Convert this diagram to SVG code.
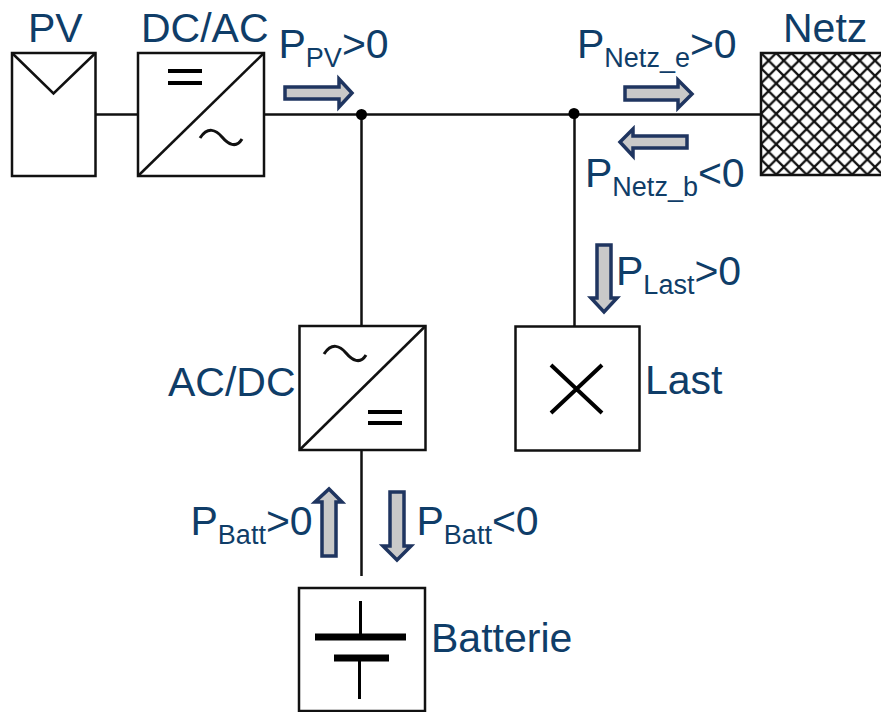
<svg xmlns="http://www.w3.org/2000/svg" width="881" height="712" viewBox="0 0 881 712">
<style>
text{font-family:"Liberation Sans",Arial,sans-serif;font-size:41px;fill:#0f3d68}
.s{font-size:27px}
.b{fill:#fff;stroke:#111;stroke-width:2.5}
.l{fill:none;stroke:#111;stroke-width:2.5}
.t{fill:none;stroke:#111;stroke-width:3}
.k{fill:none;stroke:#000;stroke-width:4}
.a{fill:#c9c9c9;stroke:#1f3560;stroke-width:3.500}
</style>
<defs>
<pattern id="h" width="15.200" height="15.200" patternUnits="userSpaceOnUse" patternTransform="translate(761 53)">
<path d="M-2 2L2 -2M-2 17.200L17.200 -2M13.200 17.200L17.200 13.200M-2 13.200L2 17.200M-2 -2L17.200 17.200M13.200 -2L17.200 2" stroke="#111" stroke-width="2.300" fill="none"/>
</pattern>
</defs>
<g id="connectors">
<path class="l" d="M96 114.500H138M264 114.500H761M361.500 114.500V326M574.500 114.500V326M361.500 450V576"/>
<circle cx="361.500" cy="114.500" r="5.500" fill="#000"/>
<circle cx="574" cy="113.500" r="5.500" fill="#000"/>
</g>
<g id="pv"><rect class="b" x="12" y="53" width="83.500" height="123"/><path class="l" d="M12 53L53.500 93.500L95.500 53"/><text x="28" y="42">PV</text></g>
<g id="dcac"><rect class="b" x="138" y="53" width="126" height="123"/><path class="l" d="M138 176L264 53"/><path d="M168 71H202M168 83H202" stroke="#000" stroke-width="4" fill="none"/><path class="t" d="M200 138C208 126 216 130 222 137C228 144 236 149 242 139"/><text x="141" y="42">DC/AC</text></g>
<g id="acdc"><rect class="b" x="299.500" y="326" width="126" height="124"/><path class="l" d="M299.500 450L425.500 326"/><path class="t" d="M324 354C332 342 340 346 346 353C352 360 360 365 366 355"/><path d="M368 412H402M368 423H402" stroke="#000" stroke-width="4" fill="none"/><text x="168" y="396">AC/DC</text></g>
<g id="last"><rect class="b" x="515.500" y="326.500" width="124" height="124"/><path class="k" d="M551 365L602 413M602 365L551 413"/><text x="645" y="394">Last</text></g>
<g id="batterie"><rect class="b" x="299" y="588" width="126" height="123"/><path d="M360.500 601V635M359.500 658V699" stroke="#000" stroke-width="3" fill="none"/><path d="M315 637H406M334 658H389" stroke="#000" stroke-width="7" fill="none"/><text x="431" y="652">Batterie</text></g>
<g id="netz"><rect x="761" y="53" width="122" height="122" fill="url(#h)" stroke="#111" stroke-width="2.500"/><text x="783" y="42">Netz</text></g>
<g id="arrows">
<path class="a" d="M285 87H339V79L352 93L339 107V99H285Z"/>
<path class="a" d="M625 87H678V80L692 94L678 108V100H625Z"/>
<path class="a" d="M687 136H633V129L620 142L633 156V148H687Z"/>
<path class="a" d="M597 245V298H591L604 312L617 298H611V245Z"/>
<path class="a" d="M322 556V502H315L329 489L342 502H336V556Z"/>
<path class="a" d="M390 492V546H383L397 560L411 546H404V492Z"/>
</g>
<g id="labels">
<text x="278.500" y="58">P<tspan class="s" dy="9">PV</tspan><tspan dy="-9">&gt;0</tspan></text>
<text x="577" y="58">P<tspan class="s" dy="9">Netz_e</tspan><tspan dy="-9">&gt;0</tspan></text>
<text x="585" y="187">P<tspan class="s" dy="9">Netz_b</tspan><tspan dy="-9">&lt;0</tspan></text>
<text x="616" y="285">P<tspan class="s" dy="9">Last</tspan><tspan dy="-9">&gt;0</tspan></text>
<text x="190.500" y="535">P<tspan class="s" dy="9">Batt</tspan><tspan dy="-9">&gt;0</tspan></text>
<text x="416.500" y="535">P<tspan class="s" dy="9">Batt</tspan><tspan dy="-9">&lt;0</tspan></text>
</g>
</svg>
